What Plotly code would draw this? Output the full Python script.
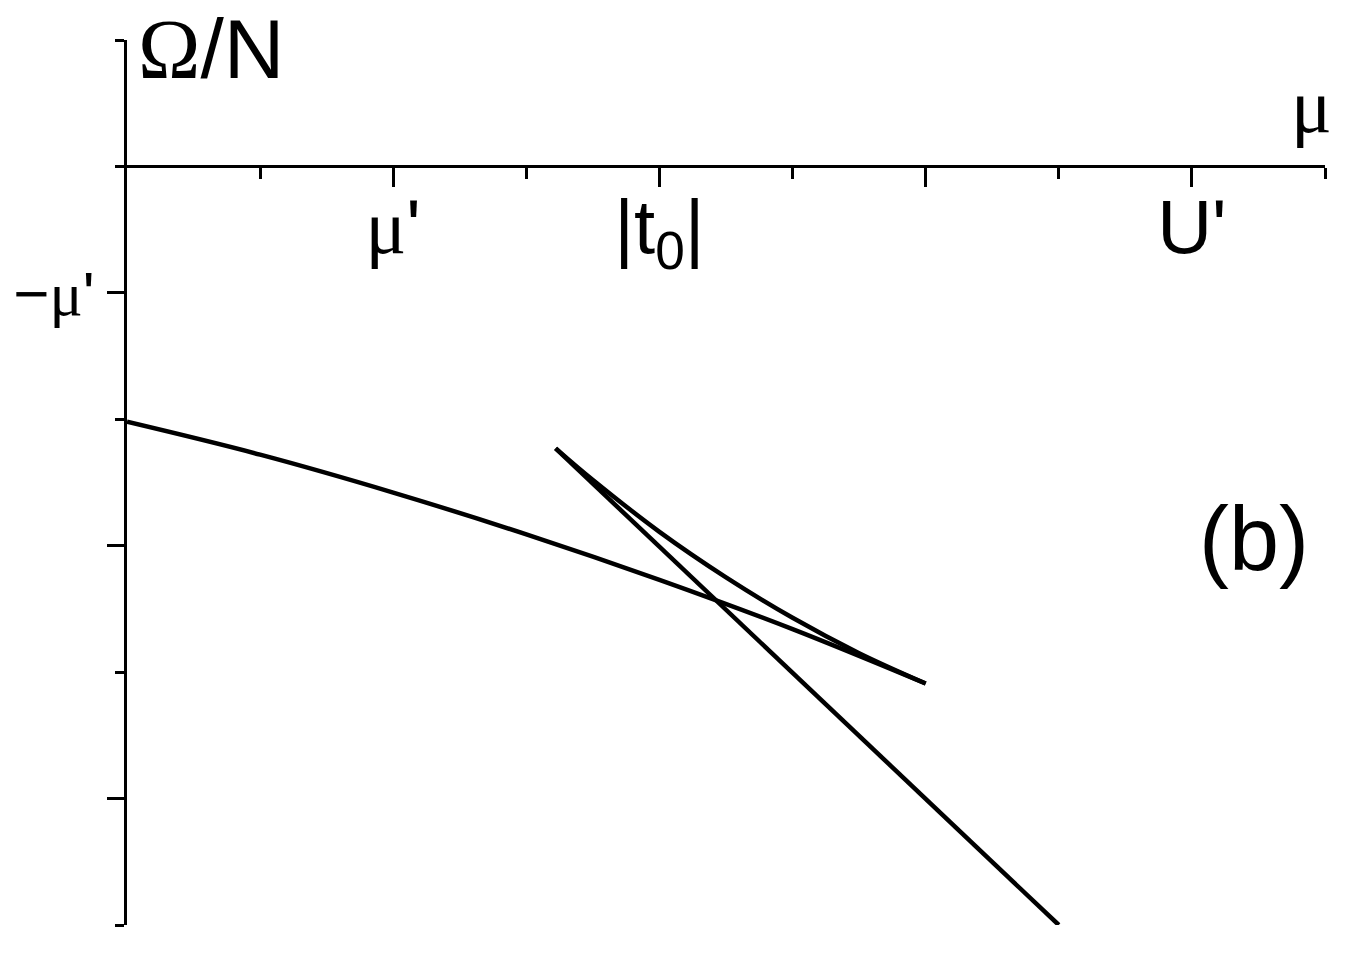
import plotly.graph_objects as go

# lower branch (starts on the Omega axis)
mu_a = [0, 1, 2, 3, 4, 5, 6]
omega_a = [-2.02, -2.28, -2.58, -2.91, -3.27, -3.66, -4.09]

# upper branch
mu_b = [3.22, 3.5, 4.0, 4.5, 5.0, 5.5, 6.0]
omega_b = [-2.23, -2.48, -2.89, -3.25, -3.57, -3.85, -4.09]

# straight branch
mu_c = [3.22, 4, 5, 6, 7]
omega_c = [-2.23, -3.01, -4.01, -5.01, -6.0]

x_tickvals = [2, 4, 6, 8]
x_ticktext = ['<span style="font-family:Liberation Serif">μ</span>\'',
              "|t<sub>0</sub>|", "", "U'"]
x_minor = [1, 3, 5, 7, 9]
y_tickvals = [-1, -3, -5]
y_ticktext = ['−<span style="font-family:Liberation Serif">μ</span>\'', "", ""]
y_minor = [1, 0, -2, -4, -6]

line_style = dict(color="black", width=4.5)

fig = go.Figure()
fig.add_trace(go.Scatter(x=mu_a, y=omega_a, mode="lines", line=dict(**line_style, shape="spline")))
fig.add_trace(go.Scatter(x=mu_b, y=omega_b, mode="lines", line=dict(**line_style, shape="spline")))
fig.add_trace(go.Scatter(x=mu_c, y=omega_c, mode="lines", line=line_style))

# the page body adds an 8px offset, so the figure is 8px smaller and margins shifted
fig.update_layout(
    width=1344,
    height=945,
    margin=dict(l=119, r=27, t=32, b=28, autoexpand=False),
    paper_bgcolor="white",
    plot_bgcolor="white",
    showlegend=False,
    hovermode=False,
    font=dict(family="Liberation Sans", color="black"),
    xaxis=dict(
        range=[0, 9],
        anchor="free",
        position=6 / 7,
        automargin=False,
        showline=True, linecolor="black", linewidth=3,
        showgrid=False, zeroline=False,
        tickmode="array", tickvals=x_tickvals, ticktext=x_ticktext,
        ticks="outside", ticklen=19, tickwidth=3, tickcolor="black",
        tickfont=dict(size=76, family="Liberation Sans"),
        ticklabelstandoff=-26,
        minor=dict(tickmode="array", tickvals=x_minor, ticks="outside",
                   ticklen=11, tickwidth=3, tickcolor="black"),
    ),
    yaxis=dict(
        range=[-6, 1],
        automargin=False,
        showline=True, linecolor="black", linewidth=3,
        showgrid=False, zeroline=False,
        tickmode="array", tickvals=y_tickvals, ticktext=y_ticktext,
        ticks="outside", ticklen=17, tickwidth=3, tickcolor="black",
        tickfont=dict(size=62, family="Liberation Sans"),
        ticklabelstandoff=0,
        minor=dict(tickmode="array", tickvals=y_minor, ticks="outside",
                   ticklen=9, tickwidth=3, tickcolor="black"),
    ),
)

fig.add_annotation(x=0.07, y=0.93, xref="x", yref="y", xanchor="left", yanchor="middle",
                   text='<span style="font-family:Liberation Serif">Ω</span>/N',
                   showarrow=False, font=dict(size=84, family="Liberation Sans"))
fig.add_annotation(x=8.9, y=0.48, xref="x", yref="y", xanchor="center", yanchor="middle",
                   text="μ", showarrow=False, font=dict(size=76, family="Liberation Serif"))
fig.add_annotation(x=8.47, y=-2.95, xref="x", yref="y", xanchor="center", yanchor="middle",
                   text="(b)", showarrow=False, font=dict(size=90, family="Liberation Sans"))

fig.write_html("out.html")
